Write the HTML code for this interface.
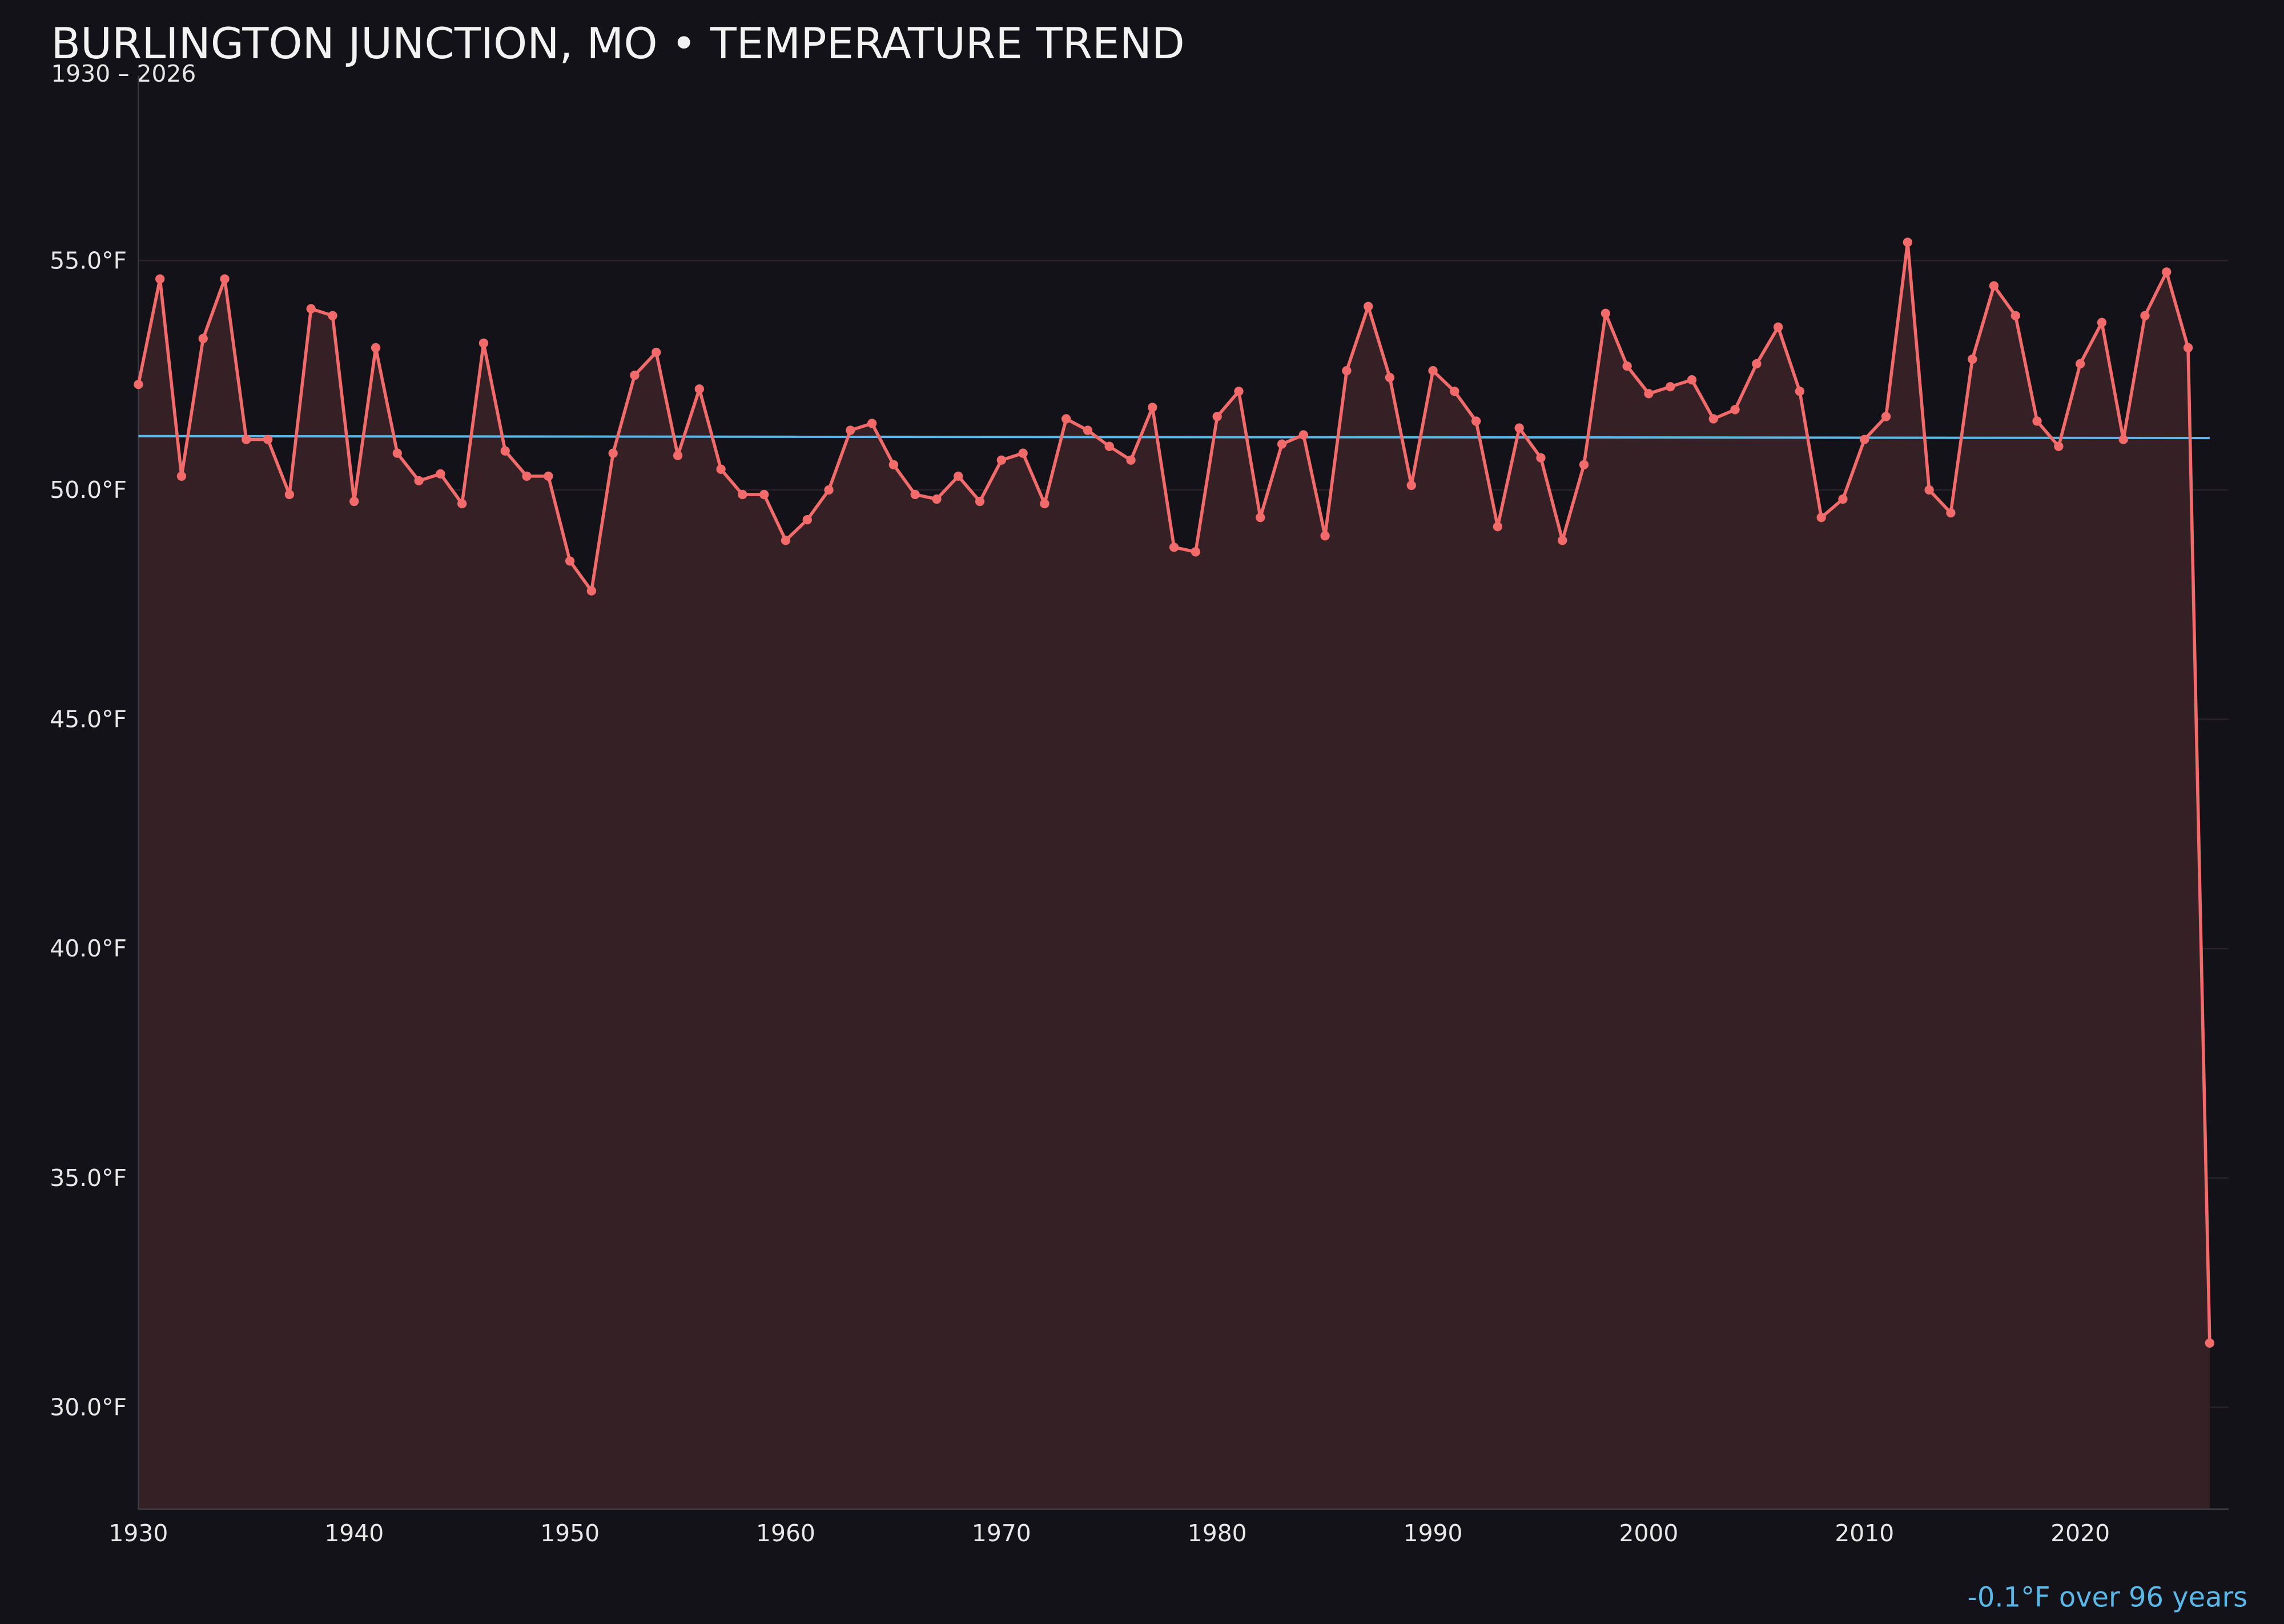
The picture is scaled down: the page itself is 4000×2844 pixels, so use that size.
<!DOCTYPE html>
<html><head><meta charset="utf-8"><style>
html,body{margin:0;padding:0;background:#131218;}
svg{display:block;font-family:"DejaVu Sans","Liberation Sans",sans-serif;}
</style></head><body>
<svg id="chart" width="4000" height="2844" viewBox="0 0 1568 1114.88" xmlns="http://www.w3.org/2000/svg">
<rect x="0" y="0" width="1568" height="1114.88" fill="#131218"/>
<text x="35" y="40" font-size="29.5" fill="#f2f2f2">BURLINGTON JUNCTION, MO • TEMPERATURE TREND</text>
<text x="35" y="56" font-size="16" fill="#e6e6e6">1930 – 2026</text>
<g id="grid"></g>
<g id="area"></g>
<g id="axes"></g>
<g id="series"></g>
<text x="1543" y="1103" font-size="18.8" fill="#5ab8e8" text-anchor="end">-0.1°F over 96 years</text>
</svg>
<script>
const years = [];
for (let y = 1930; y <= 2026; y++) years.push(y);
const temps = [52.3,54.6,50.3,53.3,54.6,51.1,51.1,49.9,53.95,53.8,
49.75,53.1,50.8,50.2,50.35,49.7,53.2,50.85,50.3,50.3,
48.45,47.8,50.8,52.5,53.0,50.75,52.2,50.45,49.9,49.9,
48.9,49.35,50.0,51.3,51.45,50.55,49.9,49.8,50.3,49.75,
50.65,50.8,49.7,51.55,51.3,50.95,50.65,51.8,48.75,48.65,
51.6,52.15,49.4,51.0,51.2,49.0,52.6,54.0,52.45,50.1,
52.6,52.15,51.5,49.2,51.35,50.7,48.9,50.55,53.85,52.7,
52.1,52.25,52.4,51.55,51.75,52.75,53.55,52.15,49.4,49.8,
51.1,51.6,55.4,50.0,49.5,52.85,54.45,53.8,51.5,50.95,
52.75,53.65,51.1,53.8,54.75,53.1,31.4];
const yTicks = [30,35,40,45,50,55];
const yTickLabels = ["30.0°F","35.0°F","40.0°F","45.0°F","50.0°F","55.0°F"];
const xTicks = [1930,1940,1950,1960,1970,1980,1990,2000,2010,2020];

const NS = "http://www.w3.org/2000/svg";
const L = 95, R = 1530, T = 52, B = 1036;
const xMin = 1930, xMax = 2026;
const px0 = 95, px1 = 1517;
const yMin = 27.78, yMax = 59.03;
const xs = v => px0 + (v - xMin) / (xMax - xMin) * (px1 - px0);
const ys = v => B - (v - yMin) / (yMax - yMin) * (B - T);
function mk(tag, attrs, parent) {
  const e = document.createElementNS(NS, tag);
  for (const k in attrs) e.setAttribute(k, attrs[k]);
  parent.appendChild(e);
  return e;
}
const grid = document.getElementById('grid');
const axes = document.getElementById('axes');
const area = document.getElementById('area');
const series = document.getElementById('series');

yTicks.forEach((t, i) => {
  const l = mk('line', {x1: L, x2: R, y1: ys(t), y2: ys(t), stroke: '#2a2228', 'stroke-width': 1}, grid);
  
  
  const tx = mk('text', {x: 87, y: ys(t) + 5.5, 'font-size': 16, fill: '#e8e8e8', 'text-anchor': 'end'}, axes);
  tx.textContent = yTickLabels[i];
  
  
});
const ln = mk('line', {x1: L, x2: L, y1: T, y2: B, stroke: '#3a3a40', 'stroke-width': 1}, axes);


const lb = mk('line', {x1: L, x2: R, y1: B, y2: B, stroke: '#3a3a40', 'stroke-width': 1}, axes);


xTicks.forEach(t => {
  const tx = mk('text', {x: xs(t), y: B + 22, 'font-size': 16, fill: '#e8e8e8', 'text-anchor': 'middle'}, axes);
  tx.textContent = t;
  
  
});

let d = '';
years.forEach((y, i) => { d += (i ? 'L' : 'M') + xs(y).toFixed(2) + ',' + ys(temps[i]).toFixed(2); });
const ad = d + 'L' + xs(xMax) + ',' + B + 'L' + xs(xMin) + ',' + B + 'Z';
const ap = mk('path', {d: ad, fill: '#352026'}, area);



const n = years.length;
const mx = years.reduce((a, b) => a + b, 0) / n;
const my = temps.reduce((a, b) => a + b, 0) / n;
let sxy = 0, sxx = 0;
years.forEach((y, i) => { sxy += (y - mx) * (temps[i] - my); sxx += (y - mx) * (y - mx); });
const slope = sxy / sxx;
const tr = mk('line', {x1: xs(xMin), y1: ys(my + slope * (xMin - mx)), x2: xs(xMax), y2: ys(my + slope * (xMax - mx)), stroke: '#5ab8e8', 'stroke-width': 1.6}, series);



const lp = mk('path', {d: d, fill: 'none', stroke: '#f26a6a', 'stroke-width': 2.2, 'stroke-linejoin': 'round'}, series);


years.forEach((y, i) => {
  const c = mk('circle', {cx: xs(y), cy: ys(temps[i]), r: 3.2, fill: '#f26a6a'}, series);
  
  
});
</script>
</body></html>
